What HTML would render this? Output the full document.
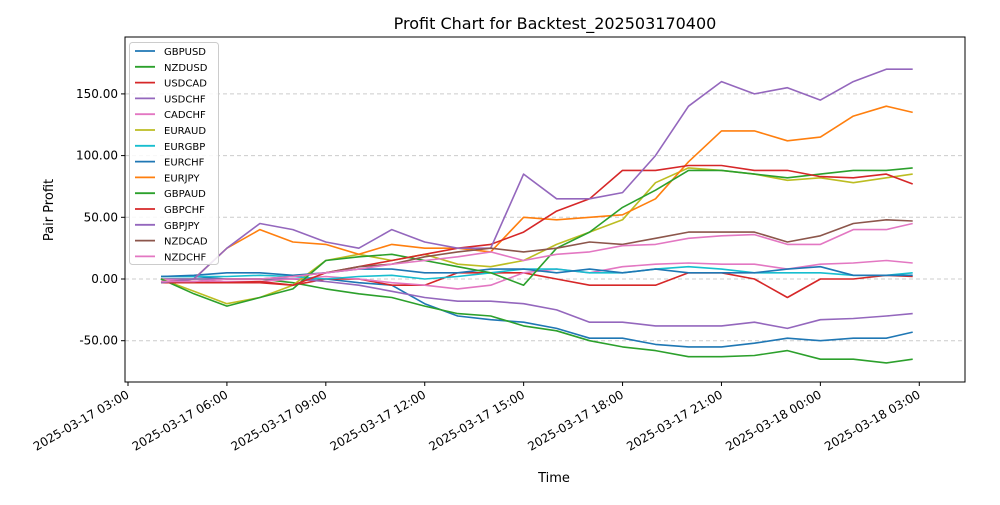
<!DOCTYPE html>
<html><head><meta charset="utf-8"><style>
body{margin:0;background:#fff;font-family:"Liberation Sans","DejaVu Sans",sans-serif}
svg text{font-family:"DejaVu Sans","Liberation Sans",sans-serif}
</style></head><body>
<svg id="chart" width="1000" height="500" xmlns="http://www.w3.org/2000/svg">
<rect width="1000" height="500" fill="#fff"/>
<text x="555" y="29" font-size="16" text-anchor="middle">Profit Chart for Backtest_202503170400</text>
<g id="grid"></g><g id="series"></g><g id="axes"></g><g id="legend"></g>
<text x="554" y="482" font-size="13" text-anchor="middle">Time</text>
<text transform="translate(53,210) rotate(-90)" font-size="13" text-anchor="middle">Pair Profit</text>
</svg>
<script>
const hours=[1,2,3,4,5,6,7,8,9,10,11,12,13,14,15,16,17,18,19,20,21,22,23,23.8];
const xTickLabels=["2025-03-17 03:00","2025-03-17 06:00","2025-03-17 09:00","2025-03-17 12:00","2025-03-17 15:00","2025-03-17 18:00","2025-03-17 21:00","2025-03-18 00:00","2025-03-18 03:00"];
const xTickHours=[0,3,6,9,12,15,18,21,24];
const yTicks=[-50,0,50,100,150];
const names=["GBPUSD","NZDUSD","USDCAD","USDCHF","CADCHF","EURAUD","EURGBP","EURCHF","EURJPY","GBPAUD","GBPCHF","GBPJPY","NZDCAD","NZDCHF"];
const colors=["#1f77b4","#2ca02c","#d62728","#9467bd","#e377c2","#bcbd22","#17becf","#1f77b4","#ff7f0e","#2ca02c","#d62728","#9467bd","#8c564b","#e377c2"];
const GBPUSD=[2,2,0,0,0,0,-3,-5,-20,-30,-33,-35,-40,-48,-48,-53,-55,-55,-52,-48,-50,-48,-48,-43];
const NZDUSD=[0,0,0,0,-3,-8,-12,-15,-22,-28,-30,-38,-42,-50,-55,-58,-63,-63,-62,-58,-65,-65,-68,-65];
const USDCAD=[-3,-3,-3,-3,-5,0,0,-5,-5,5,5,5,0,-5,-5,-5,5,5,0,-15,0,0,3,2];
const USDCHF=[0,0,0,0,0,-2,-5,-10,-15,-18,-18,-20,-25,-35,-35,-38,-38,-38,-35,-40,-33,-32,-30,-28];
const CADCHF=[0,-2,-2,-2,0,2,0,-3,-5,-8,-5,5,8,5,10,12,13,12,12,8,12,13,15,13];
const EURAUD=[0,-10,-20,-15,-5,15,20,15,20,12,10,15,28,38,48,78,90,88,85,80,82,78,82,85];
const EURGBP=[2,2,2,3,2,0,2,3,0,2,5,8,8,5,5,8,10,8,5,5,5,3,3,5];
const EURCHF=[2,3,5,5,3,5,8,8,5,5,8,8,5,8,5,8,5,5,5,8,10,3,3,3];
const EURJPY=[-3,0,25,40,30,28,20,28,25,25,22,50,48,50,52,65,95,120,120,112,115,132,140,135];
const GBPAUD=[0,-12,-22,-15,-8,15,18,20,15,10,5,-5,25,38,58,72,88,88,85,82,85,88,88,90];
const GBPCHF=[-3,-3,-3,-2,-5,5,10,15,20,25,28,38,55,65,88,88,92,92,88,88,83,82,85,77];
const GBPJPY=[-3,0,25,45,40,30,25,40,30,25,25,85,65,65,70,100,140,160,150,155,145,160,170,170];
const NZDCAD=[-2,-2,0,0,2,5,10,12,18,22,25,22,25,30,28,33,38,38,38,30,35,45,48,47];
const NZDCHF=[-2,-2,0,0,2,5,8,12,15,18,22,15,20,22,27,28,33,35,36,28,28,40,40,45];
const seriesData=[GBPUSD,NZDUSD,USDCAD,USDCHF,CADCHF,EURAUD,EURGBP,EURCHF,EURJPY,GBPAUD,GBPCHF,GBPJPY,NZDCAD,NZDCHF];
const NS="http://www.w3.org/2000/svg";
const L=125,R=965,T=37,B=382;
function xs(h){return 128+h*32.97;}
function ys(v){return 279-v*1.234;}
function mk(tag,attrs,parent){const e=document.createElementNS(NS,tag);for(const k in attrs)e.setAttribute(k,attrs[k]);parent.appendChild(e);return e;}
const grid=document.getElementById('grid'),axes=document.getElementById('axes'),ser=document.getElementById('series'),leg=document.getElementById('legend');
yTicks.forEach(v=>{
 const g=mk('line',{x1:L,x2:R,y1:ys(v),y2:ys(v),stroke:'#ccc','stroke-dasharray':'4,3','stroke-width':1},grid);
 
 
 const t=mk('line',{x1:L-4,x2:L,y1:ys(v),y2:ys(v),stroke:'#000'},axes);
 
 
 const tx=mk('text',{x:L-7,y:ys(v)+4,'font-size':12,'text-anchor':'end'},axes);
 tx.textContent=v.toFixed(2);
 
 
});
xTickHours.forEach((h,i)=>{
 const t=mk('line',{x1:xs(h),x2:xs(h),y1:B,y2:B+4,stroke:'#000'},axes);
 
 
 const tx=mk('text',{transform:`translate(${xs(h)+2},${B+15}) rotate(-30)`,'font-size':12,'text-anchor':'end'},axes);
 tx.textContent=xTickLabels[i];
 
 
});
const fr=mk('rect',{x:L,y:T,width:R-L,height:B-T,fill:'none',stroke:'#000','stroke-width':1},axes);


seriesData.forEach((d,i)=>{
 const p=mk('polyline',{points:d.map((v,j)=>xs(hours[j]).toFixed(1)+','+ys(v).toFixed(1)).join(' '),fill:'none',stroke:colors[i],'stroke-width':1.6,'stroke-linejoin':'round'},ser);
 
 
});
const lb=mk('rect',{x:129.5,y:42.5,width:89,height:222,rx:3,fill:'#fff','fill-opacity':0.85,stroke:'#ccc'},leg);


names.forEach((n,i)=>{
 const y=51+i*15.8;
 const g=mk('g',{},leg);
 
 
 mk('line',{x1:135,x2:155,y1:y,y2:y,stroke:colors[i],'stroke-width':1.8},g);
 const t=mk('text',{x:164,y:y+4,'font-size':10},g);
 t.textContent=n;
});
</script>
</body></html>
